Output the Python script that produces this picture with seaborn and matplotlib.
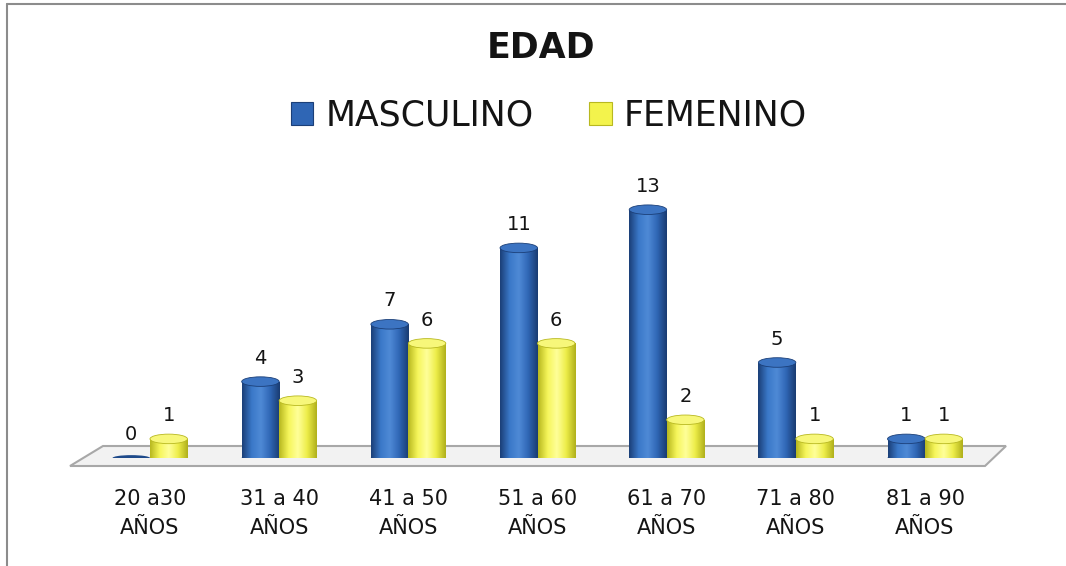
import numpy as np
import pandas as pd
import matplotlib
matplotlib.use("Agg")
import matplotlib.pyplot as plt
from matplotlib.patches import Ellipse, Polygon, Rectangle
from matplotlib.lines import Line2D
from matplotlib.colors import LinearSegmentedColormap
import seaborn as sns

# data
categories = ["20 a30\nAÑOS", "31 a 40\nAÑOS", "41 a 50\nAÑOS", "51 a 60\nAÑOS",
              "61 a 70\nAÑOS", "71 a 80\nAÑOS", "81 a 90\nAÑOS"]
series = ["MASCULINO", "FEMENINO"]
masculino = [0, 4, 7, 11, 13, 5, 1]
femenino = [1, 3, 6, 6, 2, 1, 1]

colors = {"MASCULINO": "#2F66B5", "FEMENINO": "#F3F34C"}
shades = {
    "MASCULINO": ["#1B3F78", "#3A78C8", "#4F8AD6", "#2F66B5", "#1A3C72"],
    "FEMENINO": ["#B8B820", "#F6F65A", "#FFFF9A", "#EDED48", "#B0B01C"],
}
tops = {"MASCULINO": "#3C74C2", "FEMENINO": "#F7F77A"}
text_color = "#141414"

df = pd.DataFrame({
    "edad": categories * 2,
    "sexo": [series[0]] * len(categories) + [series[1]] * len(categories),
    "n": masculino + femenino,
})

sns.set_style("white")
plt.rcParams["font.family"] = ["DejaVu Sans"]

W, H = 1066, 566
fig = plt.figure(figsize=(W / 100, H / 100), dpi=100)
ax = fig.add_axes([85.4 / W, 1 - 458 / H, 904.2 / W, 267.4 / H])

# floor plane (decoration)
floor = Polygon([(103 / W, 1 - 446 / H), (1006 / W, 1 - 446 / H),
                 (985 / W, 1 - 466 / H), (70 / W, 1 - 466 / H)],
                closed=True, transform=fig.transFigure, facecolor="#F2F2F2",
                edgecolor="#A8A8A8", linewidth=1.5, zorder=0)
fig.add_artist(floor)

sns.barplot(data=df, x="edad", y="n", hue="sexo", hue_order=series,
            palette=colors, width=0.58, ax=ax, legend=False, zorder=2)

ax.set_xlabel("")
ax.set_ylabel("")
ax.set_yticks([])
ax.tick_params(axis="x", length=0, labelsize=15, pad=22, labelcolor=text_color)
for lbl in ax.get_xticklabels():
    lbl.set_linespacing(1.6)
sns.despine(ax=ax, left=True, bottom=True)
ax.patch.set_alpha(0)

# cylinder look: gradient clipped to each bar plus elliptic caps
cap_h = 0.5
grad = np.linspace(0, 1, 64).reshape(1, -1)
for container, name in zip(ax.containers, series):
    cmap = LinearSegmentedColormap.from_list(name, shades[name])
    for bar in container:
        x0, w, h = bar.get_x(), bar.get_width(), bar.get_height()
        xc = x0 + w / 2
        if h > 0:
            im = ax.imshow(grad, extent=[x0, x0 + w, 0, h], cmap=cmap,
                           aspect="auto", zorder=2.5, interpolation="bicubic")
            im.set_clip_path(bar)
            ax.add_patch(Ellipse((xc, 0), w, cap_h, facecolor=shades[name][3],
                                 edgecolor="none", zorder=2.4))
            ax.add_patch(Ellipse((xc, h), w, cap_h, facecolor=tops[name],
                                 edgecolor=shades[name][0], linewidth=0.6, zorder=3))
        else:
            ax.add_patch(Ellipse((xc, 0), w, cap_h * 0.6, facecolor="#1E4A8A",
                                 edgecolor="none", zorder=3))
        bar.set_edgecolor("none")
    ax.bar_label(container, padding=10, fontsize=14, color=text_color)

ax.set_xlim(-0.5, 6.5)
ax.set_ylim(0, 14)

fig.text(0.5 + 8 / W, 1 - 48 / H, "EDAD", ha="center", va="center", fontsize=25,
         fontweight="bold", color=text_color)

handles = [Rectangle((0, 0), 1, 1, facecolor=colors[s],
                     edgecolor=shades[s][0], linewidth=0.8) for s in series]
fig.legend(handles, series, loc="center", bbox_to_anchor=(549 / W, 1 - 116 / H),
           ncol=2, frameon=False, fontsize=25, handlelength=0.64,
           handleheight=0.64, handletextpad=0.35, columnspacing=1.6,
           borderpad=0, labelcolor=text_color)

# outer chart frame
fig.add_artist(Line2D([7 / W, 7 / W], [0, 1 - 4 / H],
                      transform=fig.transFigure, color="#8C8C8C", linewidth=1.5))
fig.add_artist(Line2D([7 / W, 1], [1 - 4 / H, 1 - 4 / H],
                      transform=fig.transFigure, color="#8C8C8C", linewidth=1.5))

fig.savefig("out.png", dpi=100, facecolor="white")
